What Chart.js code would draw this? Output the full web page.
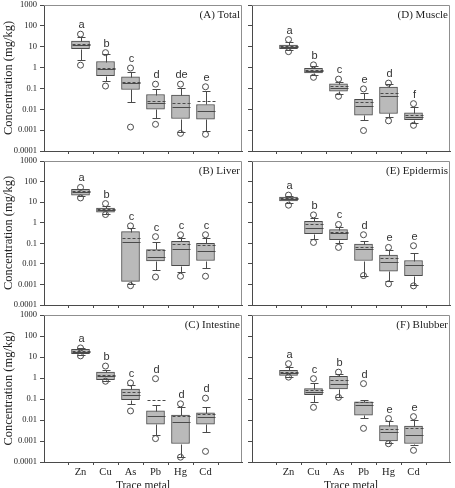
<!DOCTYPE html>
<html>
<head>
<meta charset="utf-8">
<script src="https://cdn.jsdelivr.net/npm/chart.js@4.4.1/dist/chart.umd.min.js"></script>
<style>
  html, body { margin: 0; padding: 0; background: #fff; overflow: hidden; }
  #wrap { position: relative; width: 455px; height: 488px; overflow: hidden; }
  canvas { position: absolute; }
</style>
</head>
<body>
<div id="wrap">
  <canvas id="pA" width="247" height="156" style="left:0;top:0"></canvas>
  <canvas id="pD" width="208" height="156" style="left:247px;top:0"></canvas>
  <canvas id="pB" width="247" height="154" style="left:0;top:156px"></canvas>
  <canvas id="pE" width="208" height="154" style="left:247px;top:156px"></canvas>
  <canvas id="pC" width="247" height="183" style="left:0;top:310px"></canvas>
  <canvas id="pF" width="208" height="183" style="left:247px;top:310px"></canvas>
</div>
<script>
const metals = ['Zn', 'Cu', 'As', 'Pb', 'Hg', 'Cd'];
const yTickLabels = ['0.0001', '0.001', '0.01', '0.1', '1', '10', '100', '1000'];

// box = [low whisker, Q1, median, Q3, high whisker] in mg/kg
// (A) Total
const totalBoxes = [[2.2, 8, 12, 18.5, 30], [0.23, 0.41, 0.84, 1.95, 4.5], [0.022, 0.089, 0.18, 0.36, 0.62],
                    [0.0038, 0.01, 0.021, 0.051, 0.092], [0.00085, 0.0036, 0.013, 0.048, 0.11], [0.0009, 0.0034, 0.0081, 0.017, 0.075]];
const totalMeans = [13, 1.0, 0.2, 0.025, 0.02, 0.024];
const totalOutliers = [[40, 1.3], [5.2, 0.13], [0.95, 0.0014], [0.16, 0.0019], [0.16, 0.0007], [0.12, 0.00063]];
const totalLetters = ['a', 'b', 'c', 'd', 'de', 'e'];

// (B) Liver
const liverBoxes = [[19, 22, 31, 42, 46], [2.8, 3.3, 4.2, 5.2, 6.2], [0.0011, 0.0014, 0.11, 0.37, 0.54],
                    [0.0052, 0.014, 0.021, 0.05, 0.117], [0.0039, 0.0081, 0.052, 0.126, 0.18], [0.0063, 0.0145, 0.043, 0.1, 0.18]];
const liverMeans = [33, 4.6, 0.19, 0.045, 0.091, 0.085];
const liverOutliers = [[52, 16], [8.5, 2.5], [0.7, 0.00087], [0.21, 0.0023], [0.26, 0.0025], [0.26, 0.0025]];
const liverLetters = ['a', 'b', 'c', 'c', 'c', 'c'];

// (C) Intestine
const intestineBoxes = [[12.3, 14.5, 17.9, 23, 26], [0.72, 0.84, 1.2, 1.9, 2.5], [0.059, 0.092, 0.148, 0.3, 0.44],
                        [0.0019, 0.0063, 0.016, 0.027, 0.052], [0.00017, 0.00076, 0.0078, 0.017, 0.04], [0.0026, 0.0063, 0.0135, 0.022, 0.041]];
const intestineMeans = [18.5, 1.4, 0.22, 0.085, 0.016, 0.019];
const intestineOutliers = [[27, 11.3], [3.7, 0.7], [0.58, 0.027], [0.93, 0.0013], [0.059, 0.00017], [0.11, 0.00032]];
const intestineLetters = ['a', 'b', 'c', 'd', 'd', 'd'];

// (D) Muscle
const muscleBoxes = [[6.6, 8, 10, 12, 16.5], [0.44, 0.55, 0.7, 0.93, 1.2], [0.055, 0.074, 0.1, 0.165, 0.21],
                     [0.003, 0.0052, 0.0145, 0.03, 0.06], [0.0044, 0.0063, 0.043, 0.115, 0.165], [0.0023, 0.0032, 0.0044, 0.0068, 0.013]];
const muscleMeans = [10.5, 0.78, 0.13, 0.022, 0.062, 0.0056];
const muscleOutliers = [[22, 5.8], [1.35, 0.34], [0.28, 0.042], [0.095, 0.00096], [0.18, 0.0028], [0.0186, 0.0017]];
const muscleLetters = ['a', 'b', 'c', 'e', 'd', 'f'];

// (E) Epidermis
const epidermisBoxes = [[8.6, 11.4, 14.3, 17.8, 20], [0.17, 0.29, 0.57, 1.17, 1.7], [0.105, 0.15, 0.3, 0.46, 0.61],
                        [0.0027, 0.0145, 0.052, 0.091, 0.13], [0.00145, 0.0044, 0.013, 0.027, 0.047], [0.00093, 0.0027, 0.0085, 0.0145, 0.032]];
const epidermisMeans = [15.5, 0.82, 0.35, 0.068, 0.019, 0.009];
const epidermisOutliers = [[22, 7.1], [2.4, 0.11], [0.82, 0.063], [0.26, 0.0027], [0.063, 0.00107], [0.076, 0.00085]];
const epidermisLetters = ['a', 'b', 'c', 'd', 'e', 'e'];

// (F) Blubber
const blubberBoxes = [[1.12, 1.31, 1.76, 2.35, 3.4], [0.069, 0.16, 0.21, 0.31, 0.58], [0.13, 0.3, 0.54, 1.2, 1.6],
                      [0.012, 0.017, 0.053, 0.074, 0.092], [0.00081, 0.001, 0.0028, 0.0054, 0.0089], [0.00063, 0.00076, 0.0019, 0.0051, 0.01]];
const blubberMeans = [2.0, 0.27, 0.78, 0.072, 0.0037, 0.0042];
const blubberOutliers = [[4.8, 1.1], [0.93, 0.04], [1.9, 0.12], [0.54, 0.004], [0.0117, 0.00074], [0.0145, 0.00036]];
const blubberLetters = ['a', 'c', 'b', 'd', 'e', 'e'];

const panels = [
  { id: 'pA', title: '(A) Total', boxes: totalBoxes, means: totalMeans, outliers: totalOutliers, letters: totalLetters, left: true, bottom: false, padTop: 5, axisH: 3 },
  { id: 'pB', title: '(B) Liver', boxes: liverBoxes, means: liverMeans, outliers: liverOutliers, letters: liverLetters, left: true, bottom: false, padTop: 2, axisH: 3 },
  { id: 'pC', title: '(C) Intestine', boxes: intestineBoxes, means: intestineMeans, outliers: intestineOutliers, letters: intestineLetters, left: true, bottom: true, padTop: 3, axisH: 31 },
  { id: 'pD', title: '(D) Muscle', boxes: muscleBoxes, means: muscleMeans, outliers: muscleOutliers, letters: muscleLetters, left: false, bottom: false, padTop: 5, axisH: 3 },
  { id: 'pE', title: '(E) Epidermis', boxes: epidermisBoxes, means: epidermisMeans, outliers: epidermisOutliers, letters: epidermisLetters, left: false, bottom: false, padTop: 2, axisH: 3 },
  { id: 'pF', title: '(F) Blubber', boxes: blubberBoxes, means: blubberMeans, outliers: blubberOutliers, letters: blubberLetters, left: false, bottom: true, padTop: 3, axisH: 31 }
];

const serif = 'Liberation Serif';
const ink = '#4a4a4a';
const BOX_W = 18;

// whiskers, medians, means, letters, frame and panel label
const boxExtras = {
  id: 'boxExtras',
  afterDatasetsDraw(chart, args, opts) {
    const p = opts.panel;
    const { ctx, chartArea: a } = chart;
    const x = chart.scales.x, y = chart.scales.y;
    ctx.save();
    ctx.strokeStyle = '#8f8f8f';
    ctx.lineWidth = 1;
    ctx.beginPath();
    ctx.moveTo(a.left, a.top + 0.5);
    ctx.lineTo(a.right - 0.5, a.top + 0.5);
    ctx.lineTo(a.right - 0.5, a.bottom);
    ctx.stroke();

    ctx.strokeStyle = ink;
    p.boxes.forEach((b, i) => {
      const cx = Math.round(x.getPixelForValue(i + 1)) + 0.5;
      const py = v => Math.round(y.getPixelForValue(v)) + 0.5;
      ctx.setLineDash([]);
      ctx.beginPath();
      ctx.moveTo(cx, py(b[3])); ctx.lineTo(cx, py(b[4]));
      ctx.moveTo(cx - 4, py(b[4])); ctx.lineTo(cx + 4, py(b[4]));
      ctx.moveTo(cx, py(b[1])); ctx.lineTo(cx, py(b[0]));
      ctx.moveTo(cx - 4, py(b[0])); ctx.lineTo(cx + 4, py(b[0]));
      ctx.moveTo(cx - BOX_W / 2, py(b[2])); ctx.lineTo(cx + BOX_W / 2, py(b[2]));
      ctx.stroke();
      ctx.setLineDash([3, 2]);
      ctx.beginPath();
      ctx.moveTo(cx - BOX_W / 2, py(p.means[i])); ctx.lineTo(cx + BOX_W / 2, py(p.means[i]));
      ctx.stroke();

      const topVal = Math.max(b[4], ...p.outliers[i]);
      ctx.fillStyle = '#333';
      ctx.font = '11px "Liberation Sans"';
      ctx.textAlign = 'center';
      ctx.textBaseline = 'alphabetic';
      ctx.fillText(p.letters[i], cx, y.getPixelForValue(topVal) - 6);
    });

    ctx.fillStyle = '#222';
    ctx.font = '11px "' + serif + '"';
    ctx.textAlign = 'right';
    ctx.textBaseline = 'middle';
    ctx.fillText(p.title, a.right - 2, a.top + 10);
    ctx.restore();
  }
};

panels.forEach(p => {
  new Chart(document.getElementById(p.id), {
    type: 'bar',
    data: {
      datasets: [{
        type: 'scatter',
        data: p.outliers.flatMap((list, i) => list.map(v => ({ x: i + 1, y: v }))),
        pointRadius: 3,
        pointBorderWidth: 1,
        borderColor: ink,
        backgroundColor: 'rgba(0,0,0,0)'
      }, {
        data: p.boxes.map((b, i) => ({ x: i + 1, y: [b[1], b[3]] })),
        backgroundColor: '#bababa',
        borderColor: ink,
        borderWidth: 1,
        borderSkipped: false,
        barThickness: BOX_W
      }]
    },
    options: {
      responsive: false,
      animation: false,
      devicePixelRatio: 1,
      layout: { padding: { top: p.padTop, right: p.left ? 3 : 4, left: 0, bottom: 0 } },
      plugins: { legend: { display: false }, tooltip: { enabled: false }, boxExtras: { panel: p } },
      scales: {
        x: {
          type: 'linear', min: 0.2, max: 6.8,
          afterBuildTicks: s => { s.ticks = metals.map((m, i) => ({ value: i + 1 })); },
          afterFit: s => { s.height = p.axisH; s.paddingLeft = 0; s.paddingRight = 0; },
          ticks: { display: p.bottom, callback: (v, i) => metals[i], color: '#222', padding: 1,
                   maxRotation: 0, autoSkip: false, font: { family: serif, size: 10.5 } },
          grid: { drawOnChartArea: false, drawTicks: true, tickLength: 3, color: ink },
          border: { color: ink },
          title: { display: p.bottom, text: 'Trace metal', color: '#222', padding: 0, font: { family: serif, size: 11.5 } }
        },
        y: {
          type: 'logarithmic', min: 0.0001, max: 1000,
          afterBuildTicks: s => { s.ticks = yTickLabels.map(t => ({ value: Number(t) })); },
          afterFit: s => { s.width = p.left ? 44 : 4; s.paddingTop = 0; s.paddingBottom = 0; },
          ticks: { display: p.left, callback: (v, i) => yTickLabels[i], color: '#222', padding: 3,
                   autoSkip: false, font: { family: serif, size: 8.5 } },
          grid: { drawOnChartArea: false, drawTicks: true, tickLength: 4, color: ink },
          border: { color: ink },
          title: { display: p.left, text: 'Concentration (mg/kg)', color: '#222', padding: 1, font: { family: serif, size: 12.5 } }
        }
      }
    },
    plugins: [boxExtras]
  });
});
</script>
</body>
</html>
